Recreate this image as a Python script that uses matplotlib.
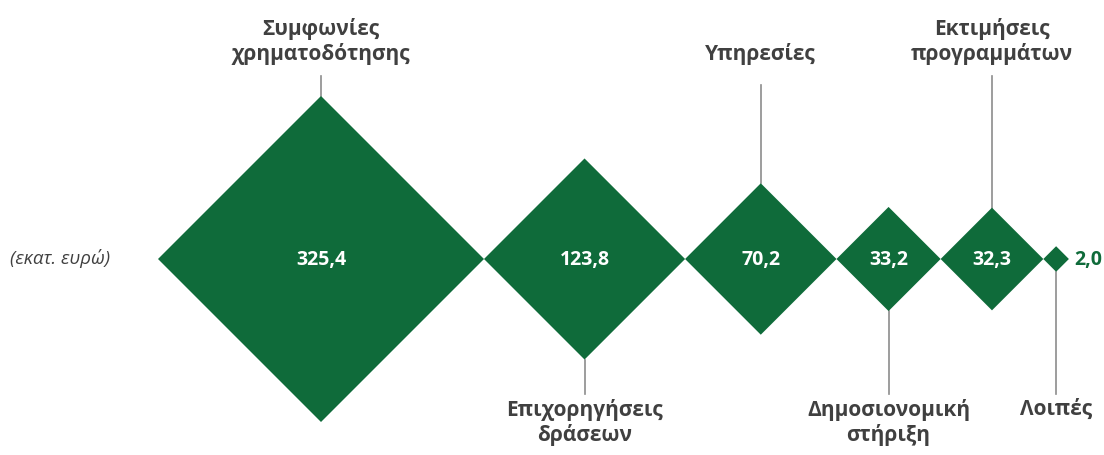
import numpy as np
import matplotlib
matplotlib.use("Agg")
import matplotlib.pyplot as plt
from matplotlib.patches import Polygon

categories = ["Συμφωνίες\nχρηματοδότησης", "Επιχορηγήσεις\nδράσεων", "Υπηρεσίες",
              "Δημοσιονομική\nστήριξη", "Εκτιμήσεις\nπρογραμμάτων", "Λοιπές"]
values = [325.4, 123.8, 70.2, 33.2, 32.3, 2.0]
value_labels = ["325,4", "123,8", "70,2", "33,2", "32,3", "2,0"]
label_side = ["top", "bottom", "top", "bottom", "top", "bottom"]
unit_label = "(εκατ. ευρώ)"

GREEN = "#0f6b3a"
TEXT = "#404040"
LINE = "#8c8c8c"
FONT = ["Open Sans", "DejaVu Sans"]

fig = plt.figure(figsize=(11.04, 4.55), dpi=100)
ax = fig.add_axes([0, 0, 1, 1])
ax.set_xlim(0, 1104)
ax.set_ylim(455, 0)
ax.axis("off")

x0 = 158.0
cy = 259.0
k = 9.036
top_end = 76.0
bot_end = 394.0

x = x0
for cat, v, vl, side in zip(categories, values, value_labels, label_side):
    h = k * np.sqrt(v)
    cx = x + h
    poly = Polygon([(cx - h, cy), (cx, cy - h), (cx + h, cy), (cx, cy + h)],
                   closed=True, facecolor=GREEN, edgecolor="none", zorder=3)
    ax.add_patch(poly)
    if h > 30:
        ax.text(cx, cy + 1, vl, ha="center", va="center", color="white",
                fontsize=14, fontweight="bold", family=FONT, zorder=4)
    else:
        ax.text(cx + h + 5, cy + 1, vl, ha="left", va="center", color=GREEN,
                fontsize=14, fontweight="bold", family=FONT, zorder=4)
    if side == "top":
        single = "\n" not in cat
        ax.plot([cx, cx], [cy - h, top_end + (9 if single else 0)], color=LINE, lw=1.2, zorder=2)
        ax.text(cx, top_end - 11, cat, ha="center", va="bottom", color=TEXT,
                fontsize=15, fontweight="bold", family=FONT, linespacing=1.2)
    else:
        ax.plot([cx, cx], [cy + h, bot_end], color=LINE, lw=1.2, zorder=2)
        ax.text(cx, bot_end + 5, cat, ha="center", va="top", color=TEXT,
                fontsize=15, fontweight="bold", family=FONT, linespacing=1.2)
    x = cx + h

ax.text(10, cy, unit_label, ha="left", va="center", color=TEXT,
        fontsize=13.5, style="italic", family=FONT)

fig.savefig("out.png", dpi=100)
